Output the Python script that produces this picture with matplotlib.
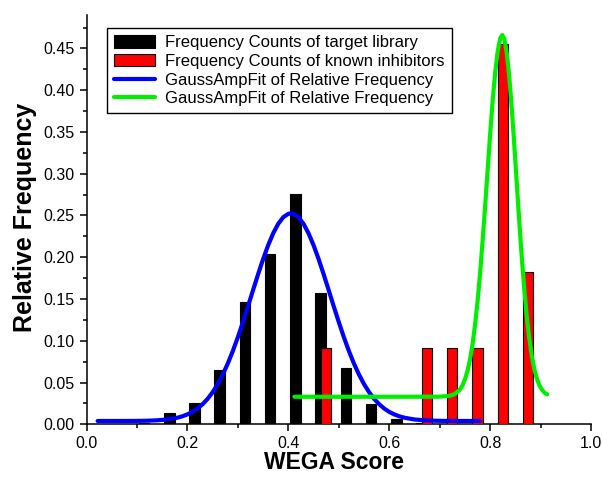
import matplotlib.pyplot as plt
from matplotlib.ticker import MultipleLocator

plt.rcParams['font.family'] = ['Liberation Sans', 'DejaVu Sans']

# --- histogram data (relative frequency per WEGA bin) ---
library_x = [0.114, 0.164, 0.214, 0.264, 0.314, 0.364, 0.414, 0.464, 0.514, 0.564, 0.614, 0.664]
library_freq = [0.002, 0.014, 0.026, 0.065, 0.147, 0.204, 0.276, 0.157, 0.068, 0.024, 0.006, 0.002]
inhibitor_x = [0.475, 0.675, 0.725, 0.775, 0.825, 0.875]
inhibitor_freq = [0.091, 0.091, 0.091, 0.091, 0.455, 0.182]

# --- GaussAmp fit curves ---
blue_fit_x = [0.022, 0.06, 0.10, 0.12, 0.14, 0.16, 0.18, 0.19,
              0.20, 0.21, 0.22, 0.23, 0.24, 0.25, 0.26, 0.27, 0.28, 0.29,
              0.30, 0.31, 0.32, 0.33, 0.34, 0.35, 0.36, 0.37, 0.38, 0.39,
              0.40, 0.405, 0.41, 0.42, 0.43, 0.44, 0.45, 0.46, 0.47, 0.48, 0.49,
              0.50, 0.51, 0.52, 0.53, 0.54, 0.55, 0.56, 0.57, 0.58, 0.59,
              0.60, 0.61, 0.62, 0.63, 0.65, 0.67, 0.69, 0.71, 0.74, 0.78]
blue_fit_y = [0.0040, 0.0040, 0.0041, 0.0043, 0.0048, 0.0058, 0.0079, 0.0096,
              0.0119, 0.0149, 0.0189, 0.0241, 0.0305, 0.0385, 0.0481, 0.0596, 0.0728, 0.0878,
              0.1044, 0.1224, 0.1412, 0.1605, 0.1796, 0.1978, 0.2144, 0.2287, 0.2401, 0.2480,
              0.2520, 0.2525, 0.2520, 0.2480, 0.2401, 0.2287, 0.2144, 0.1978, 0.1796, 0.1605, 0.1412,
              0.1224, 0.1044, 0.0878, 0.0728, 0.0596, 0.0481, 0.0385, 0.0305, 0.0241, 0.0189,
              0.0149, 0.0119, 0.0096, 0.0079, 0.0058, 0.0048, 0.0043, 0.0041, 0.0040, 0.0040]

green_fit_x = [0.412, 0.50, 0.60, 0.70, 0.72, 0.73, 0.74, 0.745, 0.75, 0.755, 0.76, 0.765,
               0.77, 0.775, 0.78, 0.785, 0.79, 0.795, 0.80, 0.805, 0.81, 0.815, 0.82, 0.824,
               0.828, 0.833, 0.838, 0.843, 0.848, 0.853, 0.858, 0.863, 0.868, 0.873, 0.878,
               0.883, 0.888, 0.893, 0.898, 0.903, 0.908, 0.913]
green_fit_y = [0.0330, 0.0330, 0.0330, 0.0331, 0.0341, 0.0362, 0.0416, 0.0465, 0.0537, 0.0637, 0.0775, 0.0956,
               0.1187, 0.1471, 0.1807, 0.2190, 0.2608, 0.3044, 0.3474, 0.3873, 0.4213, 0.4469, 0.4621, 0.4660,
               0.4616, 0.4442, 0.4151, 0.3770, 0.3329, 0.2863, 0.2401, 0.1972, 0.1590, 0.1267, 0.1004,
               0.0800, 0.0648, 0.0538, 0.0462, 0.0411, 0.0378, 0.0358]

fig = plt.figure(figsize=(6.03, 4.78), dpi=100)
ax = fig.add_axes([0.1435, 0.1123, 0.8367, 0.8563])

bars_lib = ax.bar(library_x, library_freq, width=0.021, color="black", edgecolor="black",
                  linewidth=0.8, label="Frequency Counts of target library", zorder=2)
bars_inh = ax.bar(inhibitor_x, inhibitor_freq, width=0.02, color="#ff0000", edgecolor="black",
                  linewidth=0.8, label="Frequency Counts of known inhibitors", zorder=3)
line_blue, = ax.plot(blue_fit_x, blue_fit_y, color="#0000ff", linewidth=3, solid_capstyle="round",
                     label="GaussAmpFit of Relative Frequency", zorder=4)
line_green, = ax.plot(green_fit_x, green_fit_y, color="#00ee00", linewidth=3, solid_capstyle="round",
                      label="GaussAmpFit of Relative Frequency", zorder=5)

ax.set_xlim(0, 1.0)
ax.set_ylim(0, 0.49)
ax.xaxis.set_major_locator(MultipleLocator(0.2))
ax.xaxis.set_minor_locator(MultipleLocator(0.1))
ax.yaxis.set_major_locator(MultipleLocator(0.05))
ax.yaxis.set_minor_locator(MultipleLocator(0.025))
ax.xaxis.set_major_formatter(plt.FormatStrFormatter("%.1f"))
ax.yaxis.set_major_formatter(plt.FormatStrFormatter("%.2f"))

for side in ["top", "right"]:
    ax.spines[side].set_visible(False)
for side in ["left", "bottom"]:
    ax.spines[side].set_linewidth(1.1)

ax.tick_params(which="major", direction="out", length=5, width=1.1, labelsize=11.5, pad=3.5)
ax.tick_params(which="minor", direction="out", length=3, width=1.1)

ax.set_xlabel("WEGA Score", fontsize=16.5, fontweight="bold")
ax.xaxis.set_label_coords(0.49, -0.066)
ax.set_ylabel("Relative Frequency", fontsize=18, fontweight="bold")
ax.yaxis.set_label_coords(-0.098, 0.505)

leg = ax.legend(handles=[bars_lib, bars_inh, line_blue, line_green],
                loc="upper left", bbox_to_anchor=(0.0406, 0.968), borderaxespad=0,
                fontsize=12, frameon=True, fancybox=False, framealpha=1, edgecolor="black",
                handlelength=2.5, handleheight=0.8, handletextpad=0.6,
                labelspacing=0.22, borderpad=0.4)
leg.get_frame().set_linewidth(1.0)

fig.savefig("out.png", dpi=100)
plt.close(fig)
